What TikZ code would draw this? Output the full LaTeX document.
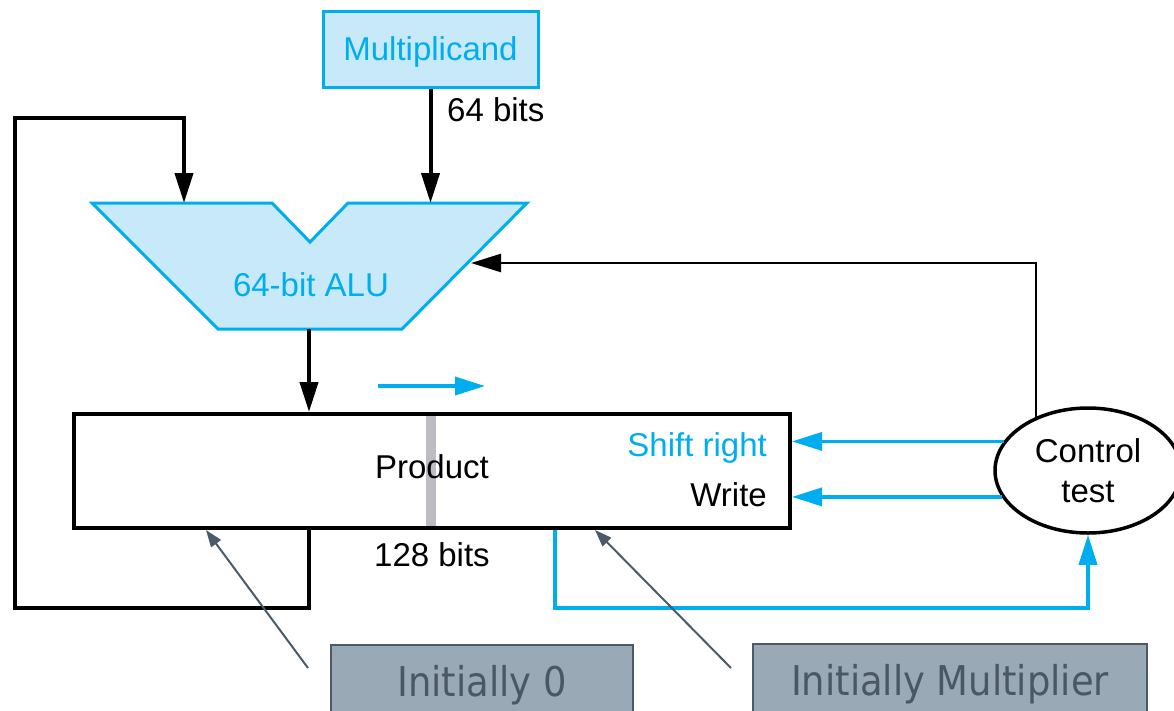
\documentclass[tikz,border=0pt]{standalone}
\usepackage{fontspec}
\setmainfont{Liberation Sans}
\newfontfamily\callfont{DejaVu Sans}
\usetikzlibrary{arrows.meta,shapes.geometric}
\definecolor{cy}{HTML}{00AEEF}
\definecolor{cyfill}{HTML}{C8E9FA}
\definecolor{callfill}{HTML}{9AA9B6}
\definecolor{calldraw}{HTML}{4B5A68}
\definecolor{calltext}{HTML}{4A5866}
\definecolor{barg}{HTML}{BCBCC2}
\begin{document}
\begin{tikzpicture}[x=1pt,y=-1pt,
  txt/.style={font=\fontsize{33}{40}\selectfont, inner sep=0pt, text depth=0pt},
  bigtip/.style={-{Triangle[length=30pt,width=18pt]}},
  blkarrow/.style={bigtip, line width=4pt, draw=black},
  thinarrow/.style={bigtip, line width=2.5pt, draw=black},
  bluearrow/.style={bigtip, line width=3.5pt, draw=cy},
  callarrow/.style={-{Triangle[length=17pt,width=12pt]}, line width=2pt, draw=calldraw},
  callbox/.style={draw=calldraw, fill=callfill, line width=2pt, inner sep=0pt,
    text=calltext, font=\callfont\fontsize{41}{48}\selectfont},
]
\useasboundingbox (0,0) rectangle (1174,710);

% Multiplicand
\node[txt, draw=cy, fill=cyfill, line width=3pt, minimum width=215pt,
  minimum height=76pt, text=cy] (mult) at (430.5,49) {Multiplicand};

% ALU
\draw[draw=cy, fill=cyfill, line width=3pt, line join=miter]
  (92,203) -- (272,203) -- (310,242) -- (348,203) -- (527,203)
  -- (402,329) -- (218,329) -- cycle;
\node[txt, text=cy] (alu) at (311,285) {64-bit ALU};
\coordinate (aluL) at (184,203);
\coordinate (aluR) at (430.5,203);
\coordinate (aluB) at (309,329);
\coordinate (aluC) at (471,263);

% Product register
\node[draw, line width=4pt, minimum width=716pt, minimum height=114pt,
  inner sep=0pt] (prod) at (432,471) {};
\draw[barg, line width=10pt] (431,416) -- (431,526);
\node[txt] (prodtxt) at (432,466.5) {Product};
\node[txt] (bits128) at (432,555) {128 bits};
\node[txt, anchor=east, text=cy] (shtxt) at (767,444.5) {Shift right};
\node[txt, anchor=east] (wrtxt) at (767,494.5) {Write};

% Control
\node[txt, ellipse, draw, line width=3.5pt, minimum width=186pt,
  minimum height=125pt, align=center] (ctrl) at (1088,470.5) {Control\\test};

% arrows
\draw[blkarrow] (mult.south) -- (aluR);
\node[txt, anchor=west] (bits64) at (447,110) {64 bits};
\coordinate (lp1) at (309,608);
\coordinate (lp2) at (15,608);
\coordinate (lp3) at (15,118);
\draw[blkarrow, line join=miter] (prod.south -| lp1) -- (lp1) -- (lp2) -- (lp3) -| (aluL);
\draw[blkarrow] (aluB) -- (prod.north -| aluB);
\draw[thinarrow, line join=miter] (ctrl.134) |- (aluC);
\draw[bluearrow] (ctrl.161) -- (ctrl.161 -| prod.east);
\draw[bluearrow] (ctrl.197.5) -- (ctrl.197.5 -| prod.east);
\coordinate (bl) at (555,608);
\draw[bluearrow, line join=miter] (prod.south -| bl) -- (bl) -| (ctrl.south);
\coordinate (sa) at (378,386);
\coordinate (sb) at (485,386);
\draw[bluearrow] (sa) -- (sb);

% callouts
\node[callbox, minimum width=302pt, minimum height=81pt, anchor=north west]
  (c0) at (330,644) {\scalebox{0.9}[1]{Initially 0}};
\node[callbox, minimum width=394pt, minimum height=81pt, anchor=north west]
  (cm) at (752,643) {\scalebox{0.9}[1]{Initially Multiplier}};
\coordinate (k0) at (308,668);
\coordinate (k1) at (731,668);
\draw[callarrow] (k0) -- ([xshift=134pt]prod.south west);
\draw[callarrow] (k1) -- ([xshift=523pt]prod.south west);
\end{tikzpicture}
\end{document}
